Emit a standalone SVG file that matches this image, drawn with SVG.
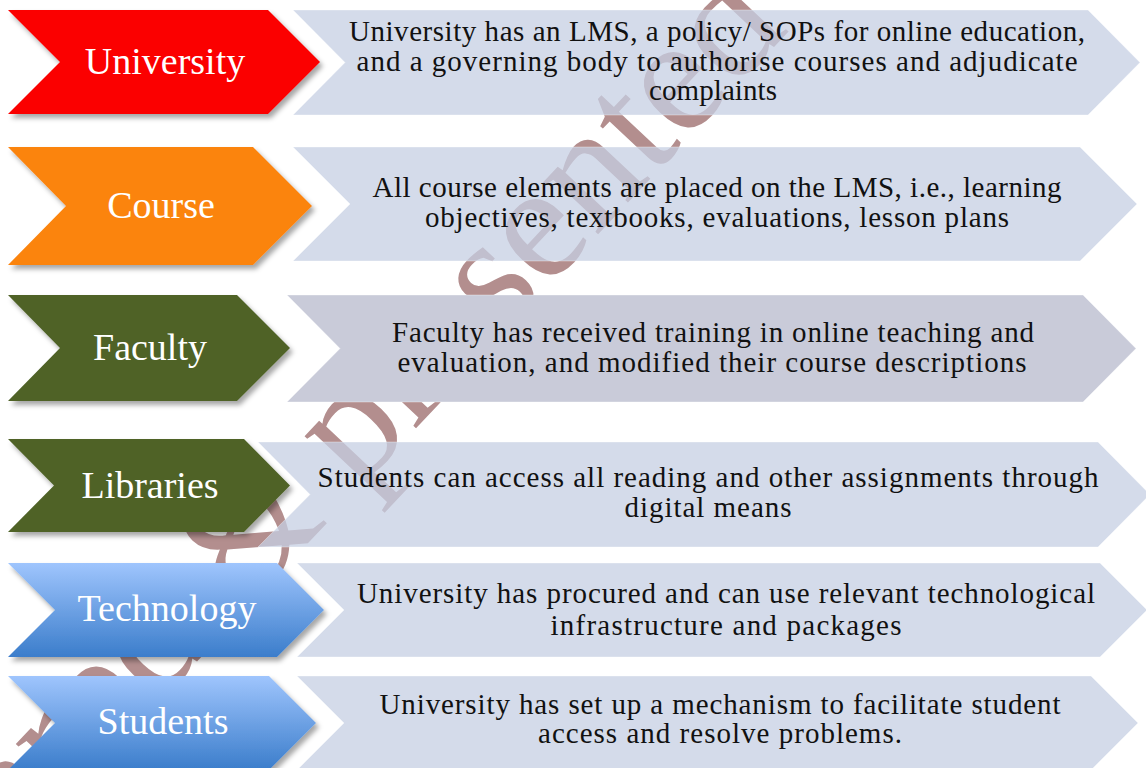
<svg xmlns="http://www.w3.org/2000/svg" width="1146" height="768" viewBox="0 0 1146 768">
  <defs>
    <style>
      .wm { font-family: "Liberation Serif", "Times New Roman", serif; fill: #b38e8e; }
      .label { font-family: "Liberation Serif", "Times New Roman", serif; font-size: 38px; fill: #ffffff; text-anchor: middle; }
      .desc { font-family: "Liberation Serif", "Times New Roman", serif; font-size: 29px; fill: #111111; text-anchor: middle; }
      .panel { fill: rgb(198,207,227); fill-opacity: 0.75; stroke: #ffffff; stroke-opacity: 0.35; stroke-width: 1; }
      .panel-dark { fill: #c9cbd9; stroke: #ffffff; stroke-opacity: 0.35; stroke-width: 1; }
      .chev { filter: url(#shadow); }
    </style>
    <filter id="shadow" x="-10%" y="-20%" width="125%" height="150%">
      <feDropShadow dx="3" dy="4" stdDeviation="2.5" flood-color="#000000" flood-opacity="0.35"/>
    </filter>
    <linearGradient id="blue" x1="0" y1="0" x2="0" y2="1">
      <stop offset="0" stop-color="#9fc5fd"/>
      <stop offset="1" stop-color="#3b7dcb"/>
    </linearGradient>
  </defs>

  <rect width="1146" height="768" fill="#ffffff"/>

  <!-- watermark behind everything -->
  <text class="wm" font-size="165" text-anchor="end" transform="translate(790,30) rotate(-46.8)">Prepared &amp; presented</text>

  <!-- description panels -->
  <g id="panels">
    <g id="panel-university">
      <polygon class="panel" points="293,10 1088,10 1140,62.5 1088,115 293,115 345,62.5"/>
    </g>
    <g id="panel-course">
      <polygon class="panel" points="293,147 1080,147 1137,204 1080,261 293,261 350,204"/>
    </g>
    <g id="panel-faculty">
      <polygon class="panel-dark" points="287,295 1083,295 1136,348.5 1083,402 287,402 340,348.5"/>
    </g>
    <g id="panel-libraries">
      <polygon class="panel" points="258,442 1098,442 1150,494.5 1098,547 258,547 310,494.5"/>
    </g>
    <g id="panel-technology">
      <polygon class="panel" points="297,563 1100,563 1147,610 1100,657 297,657 344,610"/>
    </g>
    <g id="panel-students">
      <polygon class="panel" points="297,676 1091,676 1138,723 1091,770 297,770 344,723"/>
    </g>
  </g>

  <!-- coloured chevrons -->
  <g id="chevrons">
    <g id="university">
      <polygon class="chev" fill="#fb0006" points="8,10 268,10 320,62 268,114 8,114 60,62"/>
      <text class="label" x="165" y="74">University</text>
    </g>
    <g id="course">
      <polygon class="chev" fill="#fb8411" points="8,147 253,147 312,206 253,265 8,265 66,206"/>
      <text class="label" x="161" y="218">Course</text>
    </g>
    <g id="faculty">
      <polygon class="chev" fill="#4f6228" points="8,295 237,295 290,348 237,401 8,401 60,348"/>
      <text class="label" x="150" y="360">Faculty</text>
    </g>
    <g id="libraries">
      <polygon class="chev" fill="#4f6228" points="8,439 244,439 290,485.5 244,532 8,532 54,485.5"/>
      <text class="label" x="150" y="498">Libraries</text>
    </g>
    <g id="technology">
      <polygon class="chev" fill="url(#blue)" points="8,563 277,563 324,610 277,657 8,657 55,610"/>
      <text class="label" x="167" y="621">Technology</text>
    </g>
    <g id="students">
      <polygon class="chev" fill="url(#blue)" points="8,676 269,676 316,723 269,770 8,770 55,723"/>
      <text class="label" x="163" y="734">Students</text>
    </g>
  </g>

  <!-- panel descriptions -->
  <g id="descriptions">
    <text class="desc" x="717" y="41" textLength="736">University has an LMS, a policy/ SOPs for online education,</text>
    <text class="desc" x="717" y="71" textLength="721">and a governing body to authorise courses and adjudicate</text>
    <text class="desc" x="713" y="100" textLength="128">complaints</text>

    <text class="desc" x="717" y="197" textLength="689">All course elements are placed on the LMS, i.e., learning</text>
    <text class="desc" x="717" y="227" textLength="584">objectives, textbooks, evaluations, lesson plans</text>

    <text class="desc" x="713" y="342" textLength="642">Faculty has received training in online teaching and</text>
    <text class="desc" x="712" y="372" textLength="629">evaluation, and modified their course descriptions</text>

    <text class="desc" x="708" y="487" textLength="781">Students can access all reading and other assignments through</text>
    <text class="desc" x="708" y="517" textLength="167">digital means</text>

    <text class="desc" x="726" y="603" textLength="738">University has procured and can use relevant technological</text>
    <text class="desc" x="726" y="635" textLength="351">infrastructure and packages</text>

    <text class="desc" x="720" y="714" textLength="681">University has set up a mechanism to facilitate student</text>
    <text class="desc" x="720" y="743" textLength="364">access and resolve problems.</text>
  </g>
</svg>
